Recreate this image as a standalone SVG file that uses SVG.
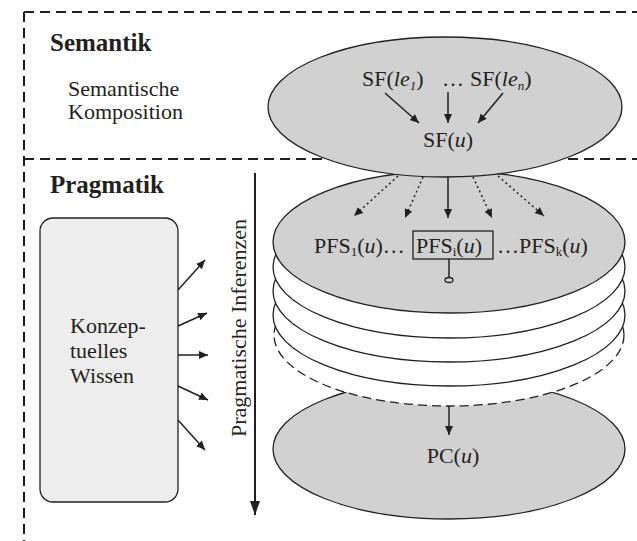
<svg xmlns="http://www.w3.org/2000/svg" width="637" height="541" viewBox="0 0 637 541">
<defs>
<marker id="ah" markerWidth="10" markerHeight="10" refX="9" refY="4" orient="auto" markerUnits="userSpaceOnUse">
<path d="M0,0 L9,4 L0,8 Z" fill="#231f20"/>
</marker>
<marker id="ahb" markerWidth="16" markerHeight="12" refX="14" refY="5" orient="auto" markerUnits="userSpaceOnUse">
<path d="M0,0 L14,5 L0,10 Z" fill="#231f20"/>
</marker>
</defs>
<style>
.t{font-family:"Liberation Serif","Times New Roman",serif;font-size:22px;fill:#231f20}
.b{font-family:"Liberation Serif","Times New Roman",serif;font-size:25px;font-weight:bold;fill:#231f20}
.i{font-style:italic}
.s{font-size:13px}
.frame{fill:none;stroke:#231f20;stroke-width:2;stroke-dasharray:10,6}
.g{fill:#d1d1d1;stroke:#231f20;stroke-width:1.3}
.w{fill:#ffffff;stroke:#231f20;stroke-width:1.3}
.wd{fill:#ffffff;stroke:#231f20;stroke-width:1.3;stroke-dasharray:9,5}
.a{fill:none;stroke:#231f20;stroke-width:1.5;marker-end:url(#ah)}
.d{fill:none;stroke:#231f20;stroke-width:1.5;stroke-dasharray:2,3;marker-end:url(#ah)}
</style>
<rect width="637" height="541" fill="#ffffff"/>
<g id="frame">
<path class="frame" d="M24,12 H637 M24,12 V541 M24,159 H637"/>
</g>
<g id="labels">
<text class="b" x="50" y="51">Semantik</text>
<text class="t" x="68" y="96">Semantische</text>
<text class="t" x="68" y="119">Komposition</text>
<text class="b" x="50" y="193">Pragmatik</text>
<text class="t" transform="translate(246,328) rotate(-90)" text-anchor="middle">Pragmatische Inferenzen</text>
</g>
<g id="pc-layer">
<ellipse class="g" cx="449" cy="449" rx="176" ry="70"/>
</g>
<g id="stack">
<ellipse class="wd" cx="449" cy="335" rx="175" ry="71"/>
<ellipse class="w" cx="449" cy="315" rx="176" ry="71"/>
<ellipse class="w" cx="449" cy="291" rx="176" ry="71"/>
<ellipse class="w" cx="449" cy="267" rx="176" ry="71"/>
</g>
<g id="pfs-layer">
<ellipse class="g" cx="449" cy="242" rx="176" ry="71"/>
<text class="t" x="314" y="253">PFS<tspan class="s" dy="3">1</tspan><tspan dy="-3">(</tspan><tspan class="i">u</tspan>)…</text>
<rect x="413" y="231" width="80" height="28" fill="none" stroke="#231f20" stroke-width="1.3"/>
<text class="t" x="416" y="253">PFS<tspan class="s" dy="3">i</tspan><tspan dy="-3">(</tspan><tspan class="i">u</tspan>)</text>
<text class="t" x="497" y="253">…PFS<tspan class="s" dy="3">k</tspan><tspan dy="-3">(</tspan><tspan class="i">u</tspan>)</text>
<line x1="449" y1="259" x2="449" y2="278" stroke="#231f20" stroke-width="1.5"/>
<ellipse cx="449" cy="280" rx="4" ry="2.5" fill="none" stroke="#231f20" stroke-width="1.3"/>
</g>
<g id="sf-layer">
<ellipse class="g" cx="445" cy="107" rx="177" ry="70"/>
<text class="t" x="362" y="86">SF(<tspan class="i">le</tspan><tspan class="s i" dy="4">1</tspan><tspan dy="-4">)</tspan></text>
<text class="t" x="442" y="86">…</text>
<text class="t" x="470" y="86">SF(<tspan class="i">le</tspan><tspan class="s i" dy="4">n</tspan><tspan dy="-4">)</tspan></text>
<text class="t" x="448" y="147" text-anchor="middle">SF(<tspan class="i">u</tspan>)</text>
</g>
<g id="pc-label">
<text class="t" x="453" y="463" text-anchor="middle">PC(<tspan class="i">u</tspan>)</text>
</g>
<g id="wissen">
<rect x="40" y="218" width="138" height="284" rx="13" ry="13" fill="#ededed" stroke="#231f20" stroke-width="1.3"/>
<text class="t" x="70" y="333">Konzep-</text>
<text class="t" x="70" y="358">tuelles</text>
<text class="t" x="70" y="383">Wissen</text>
</g>
<g id="connectors">
<line class="a" x1="385" y1="93" x2="419" y2="123"/>
<line class="a" x1="448" y1="92" x2="448" y2="123"/>
<line class="a" x1="503" y1="93" x2="478" y2="123"/>
<line class="d" x1="398" y1="176" x2="354" y2="216"/>
<line class="d" x1="423" y1="177" x2="405" y2="218"/>
<line class="a" x1="448" y1="177" x2="448" y2="218"/>
<line class="d" x1="473" y1="177" x2="492" y2="218"/>
<line class="d" x1="498" y1="176" x2="544" y2="216"/>
<line class="a" x1="449" y1="406" x2="449" y2="435"/>
<line class="a" x1="178" y1="290" x2="205" y2="260"/>
<line class="a" x1="178" y1="326" x2="207" y2="313"/>
<line class="a" x1="178" y1="355" x2="208" y2="355"/>
<line class="a" x1="178" y1="386" x2="208" y2="400"/>
<line class="a" x1="178" y1="420" x2="205" y2="450"/>
<line x1="255" y1="173" x2="255" y2="515" stroke="#231f20" stroke-width="2" marker-end="url(#ahb)"/>
</g>
</svg>
